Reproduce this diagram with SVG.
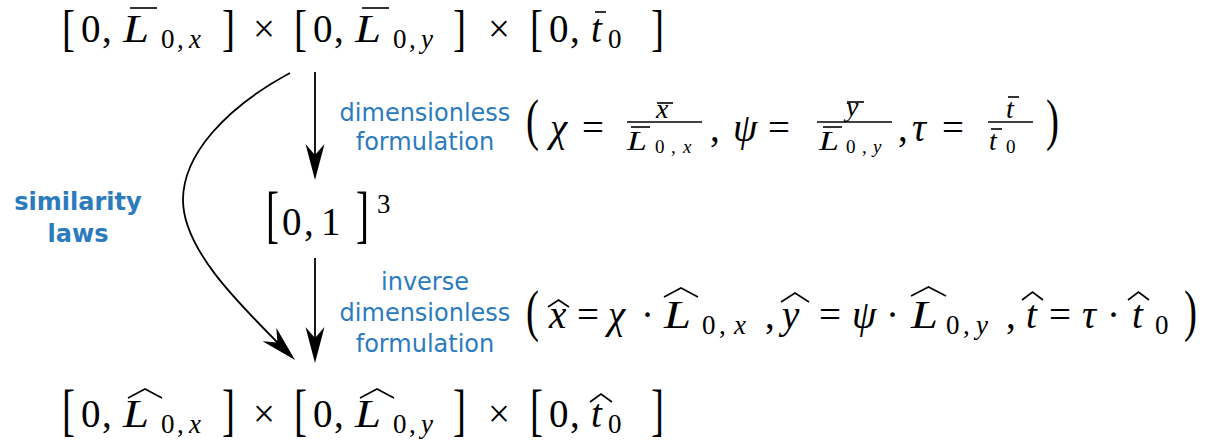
<svg xmlns="http://www.w3.org/2000/svg" width="1215" height="443" viewBox="0 0 1215 443">
<style>
.m{font-family:"Liberation Serif","Times New Roman",serif;font-size:39px;fill:#000}
.s{font-size:27px}
.ss{font-size:19px}
.d{font-size:28px}
.i{font-style:italic}
.lbl{font-family:"DejaVu Sans",sans-serif;font-size:24px;fill:#2b7bbd;text-anchor:middle}
.b{font-weight:bold}
.rule{stroke:#000;stroke-width:1.6;fill:none}
.hat{stroke:#000;stroke-width:1.6;fill:none;stroke-linejoin:miter}
.conn{stroke:#000;stroke-width:1.8;fill:none}
</style>
<defs>
<marker id="stealth" viewBox="0 0 36 20" refX="26" refY="10" markerWidth="36" markerHeight="20" markerUnits="userSpaceOnUse" orient="auto">
<path d="M36,10 L0,0.5 L11,10 L0,19.5 Z" fill="#000"/>
</marker>
</defs>

<g id="connectors">
<line class="conn" x1="315" y1="72" x2="315" y2="170" marker-end="url(#stealth)"/>
<line class="conn" x1="315" y1="258" x2="315" y2="353" marker-end="url(#stealth)"/>
<path class="conn" d="M290,73 C225,108 183,155 183,200 C183,250 240,305 288,353" marker-end="url(#stealth)"/>
</g>

<g id="node-top">
<text class="m" transform="translate(62,45) scale(1,1.28)">[</text>
<text class="m" x="81" y="42">0</text>
<text class="m" x="102" y="42">,</text>
<text class="m i" x="123" y="42" textLength="26" lengthAdjust="spacingAndGlyphs">L</text>
<line class="rule" x1="130" y1="8" x2="157" y2="8"/>
<text class="m s" x="161" y="48">0</text>
<text class="m s" x="177" y="48">,</text>
<text class="m s i" x="189" y="48">x</text>
<text class="m" transform="translate(222,45) scale(1,1.28)">]</text>
<text class="m" x="253" y="42">×</text>
<text class="m" transform="translate(294,45) scale(1,1.28)">[</text>
<text class="m" x="313" y="42">0</text>
<text class="m" x="334" y="42">,</text>
<text class="m i" x="355" y="42" textLength="26" lengthAdjust="spacingAndGlyphs">L</text>
<line class="rule" x1="362" y1="8" x2="389" y2="8"/>
<text class="m s" x="393" y="48">0</text>
<text class="m s" x="409" y="48">,</text>
<text class="m s i" x="421" y="48">y</text>
<text class="m" transform="translate(453,45) scale(1,1.28)">]</text>
<text class="m" x="488" y="42">×</text>
<text class="m" transform="translate(530,45) scale(1,1.28)">[</text>
<text class="m" x="549" y="42">0</text>
<text class="m" x="570" y="42">,</text>
<text class="m i" x="591" y="42">t</text>
<line class="rule" x1="595" y1="12" x2="606" y2="12"/>
<text class="m s" x="608" y="48">0</text>
<text class="m" transform="translate(651,45) scale(1,1.28)">]</text>
</g>

<g id="node-middle">
<text class="m" transform="translate(266,235.4) scale(1,1.6)">[</text>
<text class="m" x="282" y="235">0</text>
<text class="m" x="304" y="235">,</text>
<text class="m" x="321" y="235">1</text>
<text class="m" transform="translate(356,235.4) scale(1,1.6)">]</text>
<text class="m s" x="377" y="213">3</text>
</g>

<g id="node-bottom">
<text class="m" transform="translate(62,428.5) scale(1,1.45)">[</text>
<text class="m" x="81" y="427">0</text>
<text class="m" x="102" y="427">,</text>
<text class="m i" x="123" y="427" textLength="26" lengthAdjust="spacingAndGlyphs">L</text>
<polyline class="hat" points="128,398 145,389 162,398"/>
<text class="m s" x="161" y="433">0</text>
<text class="m s" x="177" y="433">,</text>
<text class="m s i" x="189" y="433">x</text>
<text class="m" transform="translate(222,428.5) scale(1,1.45)">]</text>
<text class="m" x="253" y="427">×</text>
<text class="m" transform="translate(294,428.5) scale(1,1.45)">[</text>
<text class="m" x="313" y="427">0</text>
<text class="m" x="334" y="427">,</text>
<text class="m i" x="355" y="427" textLength="26" lengthAdjust="spacingAndGlyphs">L</text>
<polyline class="hat" points="360,398 377,389 394,398"/>
<text class="m s" x="393" y="433">0</text>
<text class="m s" x="409" y="433">,</text>
<text class="m s i" x="421" y="433">y</text>
<text class="m" transform="translate(453,428.5) scale(1,1.45)">]</text>
<text class="m" x="488" y="427">×</text>
<text class="m" transform="translate(530,428.5) scale(1,1.45)">[</text>
<text class="m" x="549" y="427">0</text>
<text class="m" x="570" y="427">,</text>
<text class="m i" x="591" y="427">t</text>
<polyline class="hat" points="590,402 601,394 612,402"/>
<text class="m s" x="608" y="433">0</text>
<text class="m" transform="translate(651,428.5) scale(1,1.45)">]</text>
</g>

<g id="label-similarity">
<text class="lbl b" x="78" y="210">similarity</text>
<text class="lbl b" x="78" y="242">laws</text>
</g>

<g id="label-dimensionless">
<text class="lbl" x="425" y="121">dimensionless</text>
<text class="lbl" x="425" y="150">formulation</text>
</g>

<g id="formula-dimensionless">
<text class="m" transform="translate(526,138.5) scale(1,1.45)">(</text>
<text class="m i" x="550" y="141">χ</text>
<text class="m" x="582" y="141">=</text>
<line class="rule" x1="627" y1="122" x2="702" y2="122"/>
<text class="m d i" x="656" y="118">x</text>
<line class="rule" x1="657" y1="103" x2="673" y2="103"/>
<text class="m d i" x="627" y="150" textLength="20" lengthAdjust="spacingAndGlyphs">L</text>
<line class="rule" x1="631" y1="127" x2="650" y2="127"/>
<text class="m ss" x="655" y="153">0</text>
<text class="m ss" x="671" y="153">,</text>
<text class="m ss i" x="683" y="153">x</text>
<text class="m" x="710" y="141">,</text>
<text class="m i" x="733" y="141">ψ</text>
<text class="m" x="768" y="141">=</text>
<line class="rule" x1="817" y1="122" x2="892" y2="122"/>
<text class="m d i" x="846" y="116">y</text>
<line class="rule" x1="847" y1="102" x2="864" y2="102"/>
<text class="m d i" x="819" y="150" textLength="20" lengthAdjust="spacingAndGlyphs">L</text>
<line class="rule" x1="823" y1="127" x2="842" y2="127"/>
<text class="m ss" x="846" y="153">0</text>
<text class="m ss" x="862" y="153">,</text>
<text class="m ss i" x="873" y="153">y</text>
<text class="m" x="898" y="141">,</text>
<text class="m i" x="912" y="141">τ</text>
<text class="m" x="942" y="141">=</text>
<line class="rule" x1="988" y1="122" x2="1033" y2="122"/>
<text class="m d i" x="1006" y="118">t</text>
<line class="rule" x1="1008" y1="97" x2="1019" y2="97"/>
<text class="m d i" x="989" y="150">t</text>
<line class="rule" x1="991" y1="129" x2="1002" y2="129"/>
<text class="m ss" x="1006" y="153">0</text>
<text class="m" transform="translate(1046,138.5) scale(1,1.45)">)</text>
</g>

<g id="label-inverse">
<text class="lbl" x="425" y="290">inverse</text>
<text class="lbl" x="425" y="321">dimensionless</text>
<text class="lbl" x="425" y="352">formulation</text>
</g>

<g id="formula-inverse">
<text class="m" transform="translate(526,329.5) scale(1,1.45)">(</text>
<text class="m i" x="549" y="328">x</text>
<polyline class="hat" points="548,307 558.5,300 569,307"/>
<text class="m" x="577" y="328">=</text>
<text class="m i" x="608" y="328">χ</text>
<text class="m" x="641" y="328">·</text>
<text class="m i" x="664" y="328" textLength="27" lengthAdjust="spacingAndGlyphs">L</text>
<polyline class="hat" points="664,297 681,288 698,297"/>
<text class="m s" x="702" y="334">0</text>
<text class="m s" x="719" y="334">,</text>
<text class="m s i" x="734" y="334">x</text>
<text class="m" x="765" y="328">,</text>
<text class="m i" x="782" y="328">y</text>
<polyline class="hat" points="781,302 795,293 809,302"/>
<text class="m" x="819" y="328">=</text>
<text class="m i" x="852" y="328">ψ</text>
<text class="m" x="886" y="328">·</text>
<text class="m i" x="911" y="328" textLength="27" lengthAdjust="spacingAndGlyphs">L</text>
<polyline class="hat" points="911,296 928.5,287 946,296"/>
<text class="m s" x="946" y="334">0</text>
<text class="m s" x="963" y="334">,</text>
<text class="m s i" x="976" y="334">y</text>
<text class="m" x="1006" y="328">,</text>
<text class="m i" x="1026" y="328">t</text>
<polyline class="hat" points="1022,300 1032.5,292 1043,300"/>
<text class="m" x="1049" y="328">=</text>
<text class="m i" x="1082" y="328">τ</text>
<text class="m" x="1107" y="328">·</text>
<text class="m i" x="1132" y="328">t</text>
<polyline class="hat" points="1128,300 1138.5,292 1149,300"/>
<text class="m s" x="1155" y="334">0</text>
<text class="m" transform="translate(1184,329.5) scale(1,1.45)">)</text>
</g>
</svg>
